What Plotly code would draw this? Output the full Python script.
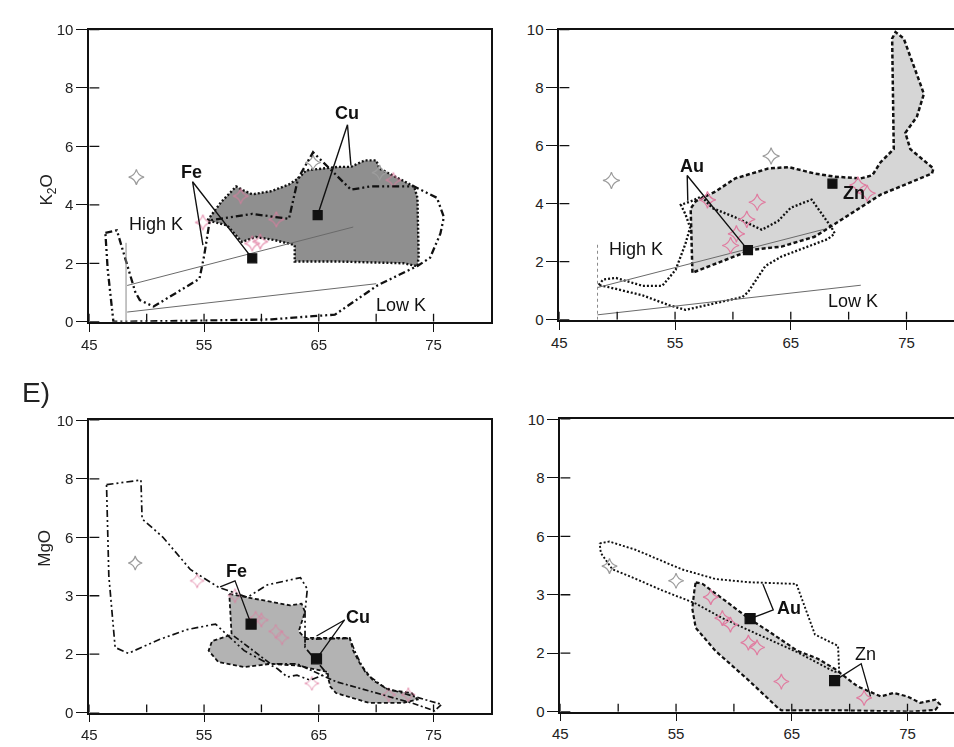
import plotly.graph_objects as go

# ---------------- K2O vs SiO2 : Fe and Cu deposits (upper left) ----------------
tl_field_x = [55.3, 56.5, 57.8, 58.4, 59.2, 60.9, 62.4, 63.2, 63.9, 66.7, 67.8, 69.0, 70.0, 70.3,
              73.3, 73.6, 73.7, 73.6, 72.4, 66.7, 62.9, 62.9, 61.2, 59.5, 58.3, 57.0, 55.3]
tl_field_y = [3.47, 4.10, 4.63, 4.50, 4.36, 4.47, 4.70, 4.90, 5.18, 5.30, 5.30, 5.52, 5.52, 5.24,
              4.63, 4.24, 2.23, 1.90, 2.00, 2.06, 2.06, 2.62, 2.79, 2.90, 2.73, 3.30, 3.47]
tl_env_x = [46.4, 47.4, 49.0, 49.4, 50.6, 54.6, 55.0, 55.5, 59.2, 62.4, 63.2, 64.5, 67.8, 69.5,
            73.3, 75.3, 75.9, 75.6, 74.7, 73.6, 70.1, 66.4, 64.5, 60.9, 52.1, 47.3, 47.1, 46.6, 46.4]
tl_env_y = [3.04, 3.13, 1.02, 0.74, 0.52, 1.47, 2.24, 3.47, 3.69, 3.52, 4.91, 5.80, 4.52, 4.63,
            4.63, 4.24, 3.58, 3.02, 2.19, 1.91, 1.24, 0.24, 0.19, 0.08, 0.02, 0.00, 0.00, 1.80, 3.04]
tl_highk_x, tl_highk_y = [48.3, 68.0], [1.24, 3.24]
tl_lowk_x, tl_lowk_y = [48.3, 70.0], [0.33, 1.30]
tl_div_x, tl_div_y = [48.2, 48.2], [0.0, 2.7]
tl_grey_star_x, tl_grey_star_y = [49.1, 64.5, 70.3], [4.95, 5.45, 5.10]
tl_pink_star_x = [54.9, 59.2, 59.9, 58.2, 61.3, 71.5]
tl_pink_star_y = [3.40, 2.68, 2.74, 4.30, 3.50, 4.85]
tl_square_x, tl_square_y = [59.2, 64.9], [2.17, 3.65]
tl_fe_leader_x, tl_fe_leader_y = [54.9, 54.0, 59.2], [2.62, 4.79, 2.17]
tl_cu_leader_x, tl_cu_leader_y = [64.9, 67.5, 67.8], [3.65, 6.74, 5.35]

# ---------------- K2O vs SiO2 : Au and Zn deposits (upper right) ----------------
tr_field_x = [56.5, 56.35, 56.8, 58.5, 60.2, 63.05, 64.8, 67.05, 68.8, 71.05, 72.05, 72.76, 73.9,
              73.76, 74.05, 74.76, 76.2, 76.5, 75.9, 74.9, 75.33, 77.33, 77.2, 74.8, 72.76, 68.8,
              67.05, 64.2, 61.6, 56.5]
tr_field_y = [1.62, 3.83, 4.09, 4.42, 4.87, 5.21, 5.26, 5.04, 4.93, 4.87, 4.98, 5.43, 5.88,
              9.69, 9.91, 9.69, 8.12, 7.78, 7.00, 6.44, 5.88, 5.21, 5.04, 4.65, 4.31, 3.30,
              2.86, 2.52, 2.41, 1.62]
tr_env_x = [48.4, 48.8, 49.9, 52.2, 53.9, 55.05, 55.9, 56.3, 55.9, 55.5, 56.3, 57.3, 58.2, 60.2,
            62.5, 63.9, 65.0, 66.8, 68.5, 68.8, 68.2, 64.2, 62.8, 61.3, 60.8, 55.9, 54.5, 52.2,
            49.3, 48.4]
tr_env_y = [1.20, 1.39, 1.44, 1.17, 1.17, 1.72, 2.62, 3.18, 3.63, 3.96, 4.07, 4.25, 3.85, 3.53,
            3.10, 3.40, 3.86, 4.14, 3.19, 2.97, 2.78, 2.18, 1.85, 0.95, 0.78, 0.34, 0.50, 0.84,
            1.12, 1.20]
tr_highk_x, tr_highk_y = [48.3, 67.9], [1.11, 3.12]
tr_lowk_x, tr_lowk_y = [48.3, 71.05], [0.17, 1.19]
tr_div_x, tr_div_y = [48.3, 48.3], [0.0, 2.6]
tr_grey_star_x, tr_grey_star_y = [49.5, 63.3], [4.80, 5.64]
tr_pink_star_x = [57.8, 62.1, 61.2, 60.3, 59.8, 70.8, 71.6]
tr_pink_star_y = [4.13, 4.05, 3.46, 2.96, 2.56, 4.64, 4.36]
tr_square_x, tr_square_y = [61.3, 68.6], [2.40, 4.69]
tr_au_leader_x, tr_au_leader_y = [56.1, 56.05, 61.3], [4.10, 4.97, 2.40]

# ---------------- MgO vs SiO2 : Fe and Cu deposits (lower left) ----------------
bl_field_x = [57.2, 58.8, 60.8, 62.5, 63.5, 63.8, 63.25, 63.8, 67.7, 68.0, 68.6, 69.7, 71.1, 73.1,
              73.6, 72.3, 69.4, 66.5, 66.0, 65.8, 65.8, 63.1, 60.8, 58.5, 56.25, 55.4, 55.7, 57.4, 57.2]
bl_field_y = [4.06, 3.95, 3.79, 3.67, 3.73, 3.45, 2.78, 2.56, 2.56, 2.12, 1.67, 1.11, 0.78, 0.67,
              0.45, 0.33, 0.33, 0.67, 0.89, 1.22, 1.39, 1.61, 1.67, 1.56, 1.73, 2.12, 2.45, 2.67, 4.06]
bl_fe_env_x = [46.5, 49.5, 49.6, 51.4, 53.8, 56.25, 58.8, 60.5, 63.4, 64.0, 63.8, 63.8, 65.7,
               64.25, 63.1, 62.25, 61.4, 58.5, 56.0, 53.5, 51.1, 48.4, 47.25, 46.7, 46.5]
bl_fe_env_y = [7.80, 7.96, 6.63, 6.01, 4.90, 4.29, 3.95, 4.37, 4.62, 4.23, 3.45, 2.23, 1.34,
               1.11, 1.28, 1.22, 1.50, 2.12, 3.03, 2.84, 2.50, 2.03, 2.23, 4.68, 7.80]
bl_cu_env_x = [57.6, 60.8, 63.1, 66.5, 73.1, 75.1, 75.7, 70.8, 69.1, 68.25, 67.7, 63.8, 63.8]
bl_cu_env_y = [2.62, 1.67, 1.67, 1.06, 0.33, 0.06, 0.28, 0.84, 1.34, 2.00, 2.54, 2.51, 2.23]
bl_grey_star_x, bl_grey_star_y = [49.0], [5.12]
bl_pink_star_x = [54.4, 57.7, 59.5, 60.0, 61.25, 61.8, 64.4, 71.1, 72.8]
bl_pink_star_y = [4.51, 4.00, 3.23, 3.17, 2.78, 2.56, 1.00, 0.61, 0.61]
bl_square_x, bl_square_y = [59.1, 64.8], [3.03, 1.84]
bl_fe_leader_x, bl_fe_leader_y = [56.4, 57.7, 59.1], [4.30, 4.51, 3.03]
bl_cu_leader_x, bl_cu_leader_y = [64.8, 67.25, 64.8], [2.62, 3.17, 1.84]
mgo_tick_vals = [0, 2, 4, 6, 8, 10]
mgo_tick_text = ["0", "2", "3", "6", "8", "10"]

# ---------------- MgO vs SiO2 : Au and Zn deposits (lower right) ----------------
br_field_x = [56.7, 57.3, 59.0, 61.25, 63.0, 65.5, 67.25, 68.7, 70.7, 72.7, 73.8, 75.0, 76.1,
              77.4, 77.8, 77.4, 75.5, 69.8, 64.1, 63.8, 61.25, 58.4, 56.7, 56.4, 56.6, 56.7]
br_field_y = [4.43, 4.37, 3.87, 3.20, 2.75, 2.08, 1.81, 1.47, 0.86, 0.52, 0.64, 0.52, 0.30,
              0.41, 0.25, 0.06, 0.00, 0.04, 0.04, 0.13, 1.08, 2.08, 2.87, 3.53, 4.20, 4.43]
br_env_x = [48.4, 49.25, 51.5, 55.5, 58.4, 61.25, 65.4, 67.0, 69.0, 69.1, 68.7, 65.5, 62.1, 59.0,
            56.7, 53.8, 51.25, 49.5, 48.5, 48.4]
br_env_y = [5.76, 5.82, 5.54, 4.87, 4.54, 4.43, 4.37, 2.64, 2.25, 1.36, 1.36, 2.03, 2.64, 3.20,
            3.70, 4.15, 4.59, 4.87, 5.43, 5.76]
br_grey_star_x, br_grey_star_y = [49.25, 55.0], [4.98, 4.48]
br_pink_star_x = [58.0, 59.0, 59.7, 61.25, 62.0, 64.1, 71.25]
br_pink_star_y = [3.92, 3.20, 2.98, 2.36, 2.20, 1.03, 0.47]
br_square_x, br_square_y = [61.4, 68.7], [3.18, 1.06]
br_au_leader_x, br_au_leader_y = [61.4, 63.4, 62.5], [3.18, 3.48, 4.37]
br_zn_leader_x, br_zn_leader_y = [68.7, 71.0, 71.8], [1.06, 1.64, 0.52]

sio2_tick_vals = [45, 55, 65, 75]
sio2_minor_vals = [45, 50, 55, 60, 65, 70, 75]
k2o_tick_vals = [0, 2, 4, 6, 8, 10]

FONT = "Liberation Sans, Arial, Helvetica, sans-serif"
W, H = 954, 747
PINK = "#e07ca0"
GREY_STAR = "#9c9c9c"
INK = "#111111"

fig = go.Figure()


def add_line(xs, ys, ax, dash, width=2.0, color=INK, fill=None, fillcolor=None):
    fig.add_trace(go.Scatter(
        x=xs, y=ys, mode="lines", xaxis=ax[0], yaxis=ax[1],
        line=dict(color=color, width=width, dash=dash),
        fill=fill, fillcolor=fillcolor, hoverinfo="skip", showlegend=False))


def add_markers(xs, ys, ax, symbol, color, size, lw=1.2, opacity=1.0):
    fig.add_trace(go.Scatter(
        x=xs, y=ys, mode="markers", xaxis=ax[0], yaxis=ax[1], opacity=opacity,
        marker=dict(symbol=symbol, size=size, color=color, line=dict(color=color, width=lw)),
        hoverinfo="skip", showlegend=False))


DOT = "2px,2px"
DASH = "4px,2.5px"
DASHDOTDOT = "7px,3px,2px,3px,2px,3px"
DASHDOT = "6px,2.5px,2px,2.5px"

TL, TR, BL, BR = ("x", "y"), ("x2", "y2"), ("x3", "y3"), ("x4", "y4")

# upper left
add_line(tl_field_x, tl_field_y, TL, DOT, 2.4, fill="toself", fillcolor="#8f8f8f")
add_markers(tl_pink_star_x, tl_pink_star_y, TL, "star-diamond-open", PINK, 11, 1.1, 0.8)
add_markers(tl_grey_star_x, tl_grey_star_y, TL, "star-diamond-open", GREY_STAR, 11)
add_line(tl_env_x, tl_env_y, TL, DASHDOTDOT, 2.3)
add_line(tl_highk_x, tl_highk_y, TL, "solid", 1.0, color="#6a6a6a")
add_line(tl_lowk_x, tl_lowk_y, TL, "solid", 1.0, color="#6a6a6a")
add_line(tl_div_x, tl_div_y, TL, "solid", 1.0, color="#8a8a8a")
add_line(tl_fe_leader_x, tl_fe_leader_y, TL, "solid", 1.4)
add_line(tl_cu_leader_x, tl_cu_leader_y, TL, "solid", 1.4)
add_markers(tl_square_x, tl_square_y, TL, "square", INK, 9)

# upper right
add_line(tr_field_x, tr_field_y, TR, DASH, 2.5, fill="toself", fillcolor="#d6d6d6")
add_line(tr_env_x, tr_env_y, TR, DOT, 2.3)
add_line(tr_highk_x, tr_highk_y, TR, "solid", 1.0, color="#6a6a6a")
add_line(tr_lowk_x, tr_lowk_y, TR, "solid", 1.0, color="#6a6a6a")
add_line(tr_div_x, tr_div_y, TR, "dot", 1.0, color="#8a8a8a")
add_markers(tr_pink_star_x, tr_pink_star_y, TR, "star-diamond-open", PINK, 12)
add_markers(tr_grey_star_x, tr_grey_star_y, TR, "star-diamond-open", GREY_STAR, 12)
add_line(tr_au_leader_x, tr_au_leader_y, TR, "solid", 1.4)
add_markers(tr_square_x, tr_square_y, TR, "square", INK, 9)

# lower left
add_line(bl_field_x, bl_field_y, BL, DASH, 1.8, fill="toself", fillcolor="#b3b3b3")
add_markers(bl_pink_star_x, bl_pink_star_y, BL, "star-diamond-open", PINK, 10, 1.0, 0.85)
add_markers(bl_grey_star_x, bl_grey_star_y, BL, "star-diamond-open", GREY_STAR, 10)
add_line(bl_fe_env_x, bl_fe_env_y, BL, DASHDOTDOT, 1.7)
add_line(bl_cu_env_x, bl_cu_env_y, BL, DASHDOT, 1.7)
add_line(bl_fe_leader_x, bl_fe_leader_y, BL, "solid", 1.3)
add_line(bl_cu_leader_x, bl_cu_leader_y, BL, "solid", 1.3)
add_markers(bl_square_x, bl_square_y, BL, "square", INK, 10)

# lower right
add_line(br_field_x, br_field_y, BR, DASH, 2.2, fill="toself", fillcolor="#d4d4d4")
add_line(br_env_x, br_env_y, BR, DOT, 1.9)
add_markers(br_pink_star_x, br_pink_star_y, BR, "star-diamond-open", PINK, 11)
add_markers(br_grey_star_x, br_grey_star_y, BR, "star-diamond-open", GREY_STAR, 11)
add_line(br_au_leader_x, br_au_leader_y, BR, "solid", 1.3)
add_line(br_zn_leader_x, br_zn_leader_y, BR, "solid", 1.3)
add_markers(br_square_x, br_square_y, BR, "square", INK, 10)

# ---------------- axes ----------------
panels = {
    # name: (x px left, x px right, x max, y px top, y px bottom, right border)
    "1": (82, 487, 80.0, 21, 320, True),
    "2": (556, 954, 45 + (954 - 556) / 11.67, 21, 318, False),
    "3": (82, 487, 80.0, 421, 720, True),
    "4": (557, 954, 45 + (954 - 557) / 11.67, 420, 719, False),
}
tick_font = dict(family=FONT, size=15, color="#222222")
layout_axes = {}
shapes = []
for key, (xl, xr, xmax, yt, yb, right) in panels.items():
    sfx = "" if key == "1" else key
    ytv = mgo_tick_vals if key in ("3", "4") else k2o_tick_vals
    ytt = mgo_tick_text if key in ("3", "4") else [str(v) for v in k2o_tick_vals]
    layout_axes["xaxis" + sfx] = dict(
        domain=[xl / W, min(xr / W, 1.0)], range=[45, xmax], anchor="y" + sfx,
        showgrid=False, zeroline=False, showline=True, linecolor=INK, linewidth=1.7,
        mirror=True, ticks="outside", ticklen=8, tickwidth=1.3, tickcolor=INK,
        tickvals=sio2_tick_vals, ticktext=[str(v) for v in sio2_tick_vals], tickfont=tick_font)
    layout_axes["yaxis" + sfx] = dict(
        domain=[1 - yb / H, 1 - yt / H], range=[0, 10], anchor="x" + sfx,
        showgrid=False, zeroline=False, showline=True, linecolor=INK, linewidth=1.7,
        mirror=right, ticks="outside", ticklen=11, tickwidth=1.3, tickcolor=INK,
        tickvals=ytv, ticktext=ytt, tickfont=tick_font)
    xr_ref, yr_ref = "x" + sfx, "y" + sfx
    # inward halves of the tick marks
    for v in sio2_minor_vals:
        shapes.append(dict(type="line", xref=xr_ref, yref=yr_ref, ysizemode="pixel", yanchor=0,
                           x0=v, x1=v, y0=0, y1=8, line=dict(color=INK, width=1.3)))
    for v in ytv:
        shapes.append(dict(type="line", xref=xr_ref, yref=yr_ref, xsizemode="pixel", xanchor=45,
                           x0=0, x1=10, y0=v, y1=v, line=dict(color=INK, width=1.3)))

annotations = []


def label(text, x, y, ax, size=18, bold=True):
    annotations.append(dict(text=f"<b>{text}</b>" if bold else text, x=x, y=y, xref=ax[0], yref=ax[1],
                            showarrow=False, font=dict(family=FONT, size=size, color=INK)))


label("Fe", 53.9, 5.12, TL)
label("Cu", 67.5, 7.13, TL)
label("High K", 50.8, 3.34, TL, 18, False)
label("Low K", 72.2, 0.57, TL, 18, False)
label("Au", 56.5, 5.30, TR)
label("Zn", 70.5, 4.36, TR)
label("High K", 51.6, 2.45, TR, 18, False)
label("Low K", 70.4, 0.66, TR, 18, False)
label("Fe", 57.8, 4.85, BL)
label("Cu", 68.4, 3.28, BL)
label("Au", 64.8, 3.53, BR)
label("Zn", 71.4, 1.97, BR, 18, False)

annotations.append(dict(text="K<sub>2</sub>O", x=27 / W, y=1 - 167 / H, xref="paper", yref="paper",
                        textangle=-90, showarrow=False, font=dict(family=FONT, size=17, color="#222222")))
annotations.append(dict(text="MgO", x=25 / W, y=1 - 573 / H, xref="paper", yref="paper",
                        textangle=-90, showarrow=False, font=dict(family=FONT, size=17, color="#222222")))
annotations.append(dict(text="E)", x=12 / W, y=1 - 392 / H, xref="paper", yref="paper",
                        xanchor="left", showarrow=False, font=dict(family=FONT, size=28, color="#222222")))

fig.update_layout(
    width=W, height=H, margin=dict(l=0, r=0, t=0, b=0),
    paper_bgcolor="white", plot_bgcolor="white", showlegend=False,
    shapes=shapes, annotations=annotations, **layout_axes)

fig.write_html("out.html")
